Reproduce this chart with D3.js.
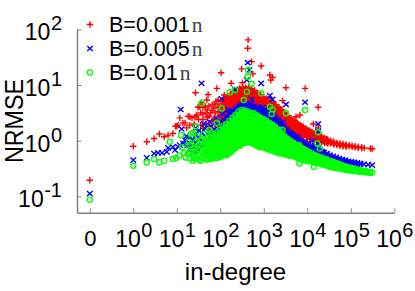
<!DOCTYPE html>
<html>
<head>
<meta charset="utf-8">
<script src="https://cdn.jsdelivr.net/npm/d3@7"></script>
<style>
  html, body { margin: 0; padding: 0; background: #fff; }
  text { font-family: "Liberation Sans", sans-serif; fill: #000; }
</style>
</head>
<body>
<div id="chart"></div>
<script>
// All readings are log10 of the plotted value. Degree 0 is drawn at exponent -1.
const seriesNames = ["B=0.001", "B=0.005", "B=0.01"];
const xTickExps = [-1, 0, 1, 2, 3, 4, 5, 6];
const yTickExps = [-1, 0, 1, 2];

// isolated points: [log degree, log NRMSE]
const redPoints = [[-1,-.71],[0,-.10],[.31,-.02],[.48,.04],[.60,.12],[.71,.07],[.80,.10],[.91,.13],[.97,.26],[1.0,.26],[1.03,.28],[1.07,.41],[1.14,.32],[1.19,.32],[1.23,.23],[1.26,.44],[1.30,.43],[1.35,.41],[1.42,.43],[1.43,.86],[1.46,.46],[1.49,.60],[1.53,.61],[1.56,.68],[1.69,.73],[1.72,.83],[1.81,.64],[1.92,.94],[1.95,.73],[2.02,1.22],[2.09,.82],[2.25,1.03],[2.49,1.29],[2.51,1.04],[2.63,1.66],[2.64,1.81],[2.72,1.42],[2.75,1.20],[2.94,1.34],[3.14,1.18],[3.16,1.09],[3.20,1.14],[3.43,.72],[3.51,.95],[3.74,.43],[3.83,.46],[3.95,.94],[4.14,.30],[4.25,.60],[4.25,.23],[4.25,.15],
  [1.30,.28],[1.40,.30],[1.50,.38],[1.55,.50],[1.55,.28],[1.60,.48],[1.65,.62],[1.70,.55],[1.70,.42],[1.78,.50],[1.85,.58],[1.85,.35],[1.90,.70],[1.98,.62],[1.98,.45],[3.60,.02],[3.72,.06],[3.90,.0],[4.00,-.03]];
const bluePoints = [[-1,-.95],[0,-.35],[.31,-.31],[.48,-.23],[.57,-.22],[.66,-.22],[.77,-.20],[.80,-.13],[.91,-.11],[.96,-.17],[1.03,-.11],[1.07,-.08],[1.09,.56],[1.11,.21],[1.19,.01],[1.26,-.08],[1.35,.01],[1.57,1.03],[2.03,.75],[2.34,.92],[2.61,1.09],[2.63,1.40],[2.67,1.27],[2.72,.74],[2.94,1.03],[3.14,.81],[3.20,.74],[3.44,.34],[3.51,.65],[3.78,.07],[3.95,.69],[4.11,.01],[4.18,-.09],[4.25,.30],[4.25,.17],[4.25,-.06],
  [1.15,-.05],[1.22,.08],[1.42,.22],[1.48,-.18],[1.62,.30],[1.75,.34],[1.82,-.08],[1.90,.40],[2.05,.48],[2.18,.56]];
const greenPoints = [[-1,-1.06],[0,-.45],[.31,-.39],[.48,-.33],[.60,-.39],[.71,-.36],[.84,-.02],[.91,-.33],[.98,-.31],[1.06,-.27],[1.10,.10],[1.17,-.22],[1.26,-.24],[1.32,.12],[1.37,.14],[1.44,.26],[1.57,.67],[1.75,.19],[1.92,.32],[2.03,.58],[2.22,.87],[2.34,.91],[2.54,.73],[2.61,.88],[2.63,1.15],[2.64,1.27],[2.72,1.02],[2.94,.85],[3.14,.61],[3.18,.48],[3.20,.56],[3.43,.19],[3.51,.49],[3.81,-.08],[3.82,-.41],[3.95,.55],[4.15,-.47],[4.23,-.05],[4.25,.15],[4.29,-.14],
  [1.12,-.12],[1.20,-.30],[1.28,-.02],[1.40,-.30],[1.48,.08],[1.55,-.36],[1.62,.12],[1.70,-.34],[1.80,.14]];

// dense part: [log degree, log NRMSE, log NRMSE, ...]
const redBand = [
  [1.60,.60,.38,.22],[1.67,.50,.30],[1.74,.62,.44,.26],[1.81,.54,.36,.20],[1.88,.66,.50,.41,.28],[1.95,.60,.52,.37,.24],
  [2.02,.72,.63,.55,.46,.38,.30],[2.09,.76,.68,.58,.51,.42,.34],[2.16,.80,.72,.65,.57,.49,.41],[2.23,.84,.76,.69,.61,.53,.46,.38],
  [2.30,.88,.81,.73,.66,.58,.50,.43],[2.37,.90,.84,.77,.70,.62,.55,.47],[2.44,.94,.87,.80,.73,.66,.58,.51],[2.51,.96,.89,.82,.76,.69,.62,.54],
  [2.58,.95,.88,.81,.74,.67,.60,.53],[2.65,.97,.90,.83,.76,.69,.62,.55],[2.72,.94,.87,.80,.73,.66,.59,.52],[2.79,.90,.83,.76,.69,.62,.55,.48],
  [2.86,.86,.79,.72,.65,.58,.51,.45],[2.93,.82,.75,.69,.62,.55,.48],[3.00,.78,.72,.65,.58,.51,.44],[3.07,.76,.69,.62,.55,.49,.42],
  [3.14,.72,.66,.59,.52,.45,.38],[3.21,.68,.62,.55,.48,.41,.35],[3.28,.65,.58,.51,.45,.38,.32],[3.35,.60,.54,.47,.41,.34,.28],
  [3.42,.55,.49,.43,.37,.31,.26],[3.49,.50,.44,.38,.33,.27,.22],[3.56,.45,.40,.35,.30,.25,.20],[3.63,.40,.35,.30,.26,.21,.17],
  [3.70,.36,.31,.27,.22,.18,.14],[3.77,.32,.28,.24,.19,.15,.11],[3.84,.28,.24,.20,.16,.12,.08],[3.91,.25,.21,.17,.13,.09],
  [3.98,.21,.18,.14,.10,.06],[4.05,.18,.15,.11,.07,.03],[4.12,.15,.12,.08,.05,.01],[4.19,.12,.09,.06,.02],[4.26,.09,.06,.03,-.01],
  [4.33,.07,.04,.01,-.02],[4.40,.04,.02,-.01,-.04],[4.47,.02,0,-.03,-.05],[4.54,0,-.02,-.05],[4.61,-.02,-.04,-.07],[4.68,-.04,-.06,-.08],
  [4.75,-.05,-.07,-.09],[4.82,-.06,-.08,-.10],[4.89,-.07,-.09,-.11],[4.96,-.08,-.10],[5.03,-.09,-.11],[5.10,-.10,-.12],[5.17,-.11,-.13],
  [5.25,-.12,-.13],[5.31,-.13],[5.45,-.14],[5.49,-.15]
];
const redBand2 = [
  [2.055,.70,.6,.5,.42,.35],[2.125,.74,.66,.55,.46,.38],[2.195,.79,.7,.62,.54,.44],[2.265,.83,.74,.66,.58,.5],[2.335,.86,.78,.7,.62,.54],
  [2.405,.9,.82,.74,.66,.58],[2.475,.92,.84,.77,.7,.62],[2.545,.93,.85,.78,.7,.63],[2.615,.93,.85,.78,.7,.63],[2.685,.92,.84,.77,.7,.62],
  [2.755,.89,.82,.74,.66,.58],[2.825,.85,.78,.71,.63,.56],[2.895,.81,.74,.67,.6,.52],[2.965,.78,.71,.64,.57,.5],[3.035,.74,.67,.6,.53,.46],
  [3.105,.72,.65,.58,.51,.44],[3.175,.68,.61,.54,.47,.4],[3.245,.64,.57,.5,.43,.36],[3.315,.6,.54,.47,.41,.34],[3.385,.56,.5,.44,.38,.31],
  [3.455,.5,.45,.39,.33,.27],[3.525,.45,.4,.35,.29,.24],[3.595,.41,.36,.31,.26,.21],[3.665,.37,.32,.27,.22,.17],[3.735,.33,.28,.24,.19,.14],
  [3.805,.29,.25,.2,.15,.11],[3.875,.26,.22,.17,.13,.09],[3.945,.22,.18,.14,.1],[4.015,.19,.15,.11,.07],[4.085,.16,.12,.08,.04],
  [4.155,.13,.1,.06,.02],[4.225,.1,.07,.03,0],[4.295,.07,.04,.01],[4.365,.05,.02,-.01],[4.435,.03,0,-.03]
];
const blueBand = [
  [1.30,.06,-.05,-.16],[1.37,.02,-.12,-.22],[1.44,.10,-.03,-.14],[1.51,.18,.05,-.08],[1.58,.14,.02,-.10],[1.65,.22,.08,-.05],[1.72,.12,0,-.12],
  [1.79,.26,.14,.03],[1.86,.20,.10,-.02],[1.93,.30,.18,.08],[2.00,.34,.25,.16,.06],[2.07,.38,.30,.22,.12],[2.14,.44,.36,.28,.20],
  [2.21,.48,.42,.34,.26],[2.28,.52,.46,.39,.31],[2.35,.58,.51,.44,.36],[2.42,.62,.55,.48,.40],[2.49,.65,.59,.52,.44],[2.56,.66,.60,.53,.46],
  [2.63,.64,.58,.51,.44],[2.70,.66,.60,.53,.45],[2.77,.62,.56,.49,.42],[2.84,.60,.53,.46,.39],[2.91,.57,.51,.44,.37],[2.98,.60,.52,.44,.36],
  [3.05,.55,.48,.41,.33],[3.12,.52,.45,.37,.30],[3.19,.48,.41,.34,.26],[3.26,.42,.36,.29,.22],[3.33,.36,.30,.23,.17],[3.40,.29,.24,.18,.12],
  [3.47,.24,.19,.13,.08],[3.54,.18,.13,.08,.03],[3.61,.14,.09,.04,-.01],[3.68,.09,.05,0,-.04],[3.75,.05,.01,-.03,-.08],[3.82,.01,-.03,-.07,-.11],
  [3.89,-.02,-.06,-.10,-.14],[3.96,-.05,-.09,-.13,-.17],[4.03,-.08,-.12,-.16,-.20],[4.10,-.11,-.15,-.19,-.22],[4.17,-.14,-.18,-.21,-.25],
  [4.24,-.16,-.20,-.24,-.27],[4.31,-.19,-.22,-.26,-.29],[4.38,-.21,-.24,-.28,-.31],[4.45,-.23,-.26,-.29,-.33],[4.52,-.26,-.29,-.32,-.35],
  [4.59,-.28,-.31,-.34],[4.66,-.30,-.33,-.36],[4.73,-.32,-.35,-.37],[4.80,-.34,-.36,-.38],[4.87,-.35,-.37,-.39],[4.94,-.37,-.39],
  [5.01,-.38,-.40],[5.08,-.39,-.41],[5.15,-.40,-.42],[5.22,-.41,-.42],[5.30,-.42],[5.40,-.43],[5.49,-.44]
];
const blueBand2 = [
  [2.245,.48,.4,.32],[2.315,.53,.45,.37],[2.385,.58,.5,.42],[2.455,.62,.54,.46],[2.525,.64,.56,.48],[2.595,.63,.55,.47],[2.665,.63,.55,.47],
  [2.735,.62,.54,.46],[2.805,.59,.51,.43],[2.875,.57,.49,.41],[2.945,.57,.48,.4],[3.015,.56,.48,.4],[3.085,.52,.44,.36],[3.155,.49,.41,.33],
  [3.225,.44,.37,.29],[3.295,.38,.31,.24],[3.365,.31,.25,.18],[3.435,.26,.2,.14],[3.505,.2,.15,.09],[3.575,.15,.1,.05],[3.645,.11,.06,.01],
  [3.715,.07,.03,-.02],[3.785,.02,-.02,-.06],[3.855,-.01,-.05,-.09],[3.925,-.04,-.08,-.12],[3.995,-.07,-.11,-.15],[4.065,-.1,-.14,-.18],
  [4.135,-.13,-.17,-.2],[4.205,-.15,-.19,-.22],[4.275,-.18,-.21,-.25],[4.345,-.2,-.23,-.27]
];
const greenBand = [
  [1.30,-.08,-.2,-.32],[1.37,-.14,-.26,-.36],[1.44,-.02,-.12,-.22,-.33],[1.51,-.06,-.16,-.26,-.34],[1.58,0,-.1,-.2,-.3],[1.65,.02,-.08,-.16,-.24,-.32],
  [1.72,.06,-.03,-.12,-.2,-.28],[1.79,.04,-.04,-.12,-.2,-.27,-.33],[1.86,.1,.02,-.06,-.14,-.22,-.29],[1.93,.14,.06,-.02,-.1,-.17,-.25,-.31],
  [2.00,.2,.12,.04,-.03,-.1,-.17,-.24,-.29],[2.07,.26,.18,.11,.03,-.05,-.12,-.19,-.25],[2.14,.3,.23,.15,.07,0,-.07,-.14,-.21,-.26],
  [2.21,.35,.28,.2,.13,.05,-.02,-.09,-.16,-.22],[2.28,.41,.34,.26,.19,.11,.04,-.03,-.1,-.17],[2.35,.46,.39,.31,.24,.16,.09,.01,-.06,-.13],
  [2.42,.52,.45,.37,.3,.22,.14,.07,-.01,-.08],[2.49,.55,.48,.4,.32,.25,.17,.1,.02,-.05],[2.56,.54,.47,.39,.31,.24,.17,.09,.02,-.04],
  [2.63,.52,.45,.38,.3,.23,.15,.08,.01,-.03],[2.70,.5,.43,.36,.28,.21,.13,.06,0,-.04],[2.77,.49,.41,.34,.26,.19,.11,.04,-.02,-.06],
  [2.84,.45,.38,.3,.23,.15,.08,.01,-.05,-.09],[2.91,.42,.35,.27,.2,.13,.05,-.01,-.07,-.12],[2.98,.39,.32,.25,.17,.1,.03,-.04,-.1],
  [3.05,.36,.29,.22,.15,.07,0,-.06,-.12],[3.12,.32,.25,.18,.11,.04,-.03,-.09,-.14],[3.19,.29,.23,.16,.09,.02,-.05,-.11,-.16],
  [3.26,.25,.19,.12,.05,-.01,-.07,-.13,-.18],[3.33,.2,.14,.08,.02,-.04,-.1,-.15,-.2],[3.40,.14,.09,.03,-.03,-.08,-.13,-.18,-.22],
  [3.47,.08,.03,-.02,-.07,-.12,-.17,-.21,-.24],[3.54,.04,-.01,-.06,-.11,-.15,-.2,-.24],[3.61,0,-.05,-.09,-.14,-.18,-.22,-.26],
  [3.68,-.04,-.08,-.13,-.17,-.21,-.25,-.28],[3.75,-.08,-.12,-.16,-.2,-.24,-.27,-.3],[3.82,-.11,-.15,-.19,-.23,-.26,-.29,-.32],
  [3.89,-.14,-.18,-.22,-.25,-.28,-.31,-.34],[3.96,-.17,-.2,-.24,-.27,-.3,-.33,-.36],[4.03,-.2,-.23,-.26,-.29,-.32,-.35,-.37],
  [4.10,-.23,-.26,-.29,-.31,-.34,-.37],[4.17,-.26,-.28,-.31,-.33,-.36,-.39],[4.24,-.28,-.3,-.33,-.35,-.38,-.4],[4.31,-.3,-.33,-.35,-.37,-.39,-.42],
  [4.38,-.32,-.35,-.37,-.39,-.41,-.43],[4.45,-.34,-.37,-.39,-.41,-.43,-.45],[4.52,-.36,-.39,-.41,-.43,-.45,-.47],[4.59,-.38,-.41,-.43,-.45,-.47,-.48],
  [4.66,-.4,-.42,-.44,-.46,-.48,-.49],[4.73,-.42,-.44,-.46,-.48,-.5],[4.80,-.44,-.46,-.48,-.5,-.51],[4.87,-.46,-.48,-.5,-.51,-.52],
  [4.94,-.48,-.5,-.51,-.53],[5.01,-.49,-.51,-.52,-.54],[5.08,-.5,-.52,-.53,-.55],[5.15,-.52,-.53,-.55],[5.22,-.53,-.54,-.56],
  [5.30,-.54,-.56],[5.36,-.55,-.57],[5.44,-.56,-.58],[5.49,-.57]
];
const greenBand2 = [
  [1.685,-.03,-.12,-.2,-.28],[1.755,.02,-.07,-.16,-.24,-.31],[1.825,0,-.08,-.16,-.24,-.3],[1.895,.06,-.02,-.1,-.18,-.25,-.31],
  [1.965,.1,.02,-.06,-.13,-.21,-.28],[2.035,.16,.08,0,-.07,-.14,-.21,-.27],[2.105,.22,.14,.07,-.01,-.09,-.16,-.23],
  [2.175,.26,.19,.11,.03,-.04,-.11,-.18,-.24],[2.245,.31,.24,.16,.09,.01,-.06,-.13,-.2],[2.315,.37,.3,.22,.15,.07,0,-.07,-.14],
  [2.385,.42,.35,.27,.2,.12,.05,-.03,-.1],[2.455,.48,.41,.33,.26,.18,.1,.03,-.05,-.09],[2.525,.51,.44,.36,.28,.21,.13,.06,-.02],
  [2.595,.5,.43,.35,.27,.2,.13,.05,-.01],[2.665,.48,.41,.34,.26,.19,.11,.04,-.02],[2.735,.46,.39,.32,.24,.17,.09,.02,-.03],
  [2.805,.44,.37,.3,.22,.15,.07,0,-.05],[2.875,.41,.34,.26,.19,.11,.04,-.03,-.09],[2.945,.38,.31,.23,.16,.09,.01,-.05,-.11],
  [3.015,.35,.28,.21,.13,.06,-.01,-.08,-.13],[3.085,.32,.25,.18,.11,.03,-.04,-.1,-.15],[3.155,.28,.21,.14,.07,0,-.07,-.13,-.17],
  [3.225,.25,.19,.12,.05,-.02,-.09,-.15,-.19],[3.295,.2,.14,.08,.01,-.05,-.11,-.17,-.21],[3.365,.15,.09,.03,-.03,-.09,-.14,-.19,-.23],
  [3.435,.09,.04,-.02,-.08,-.13,-.18,-.22],[3.505,.03,-.02,-.07,-.12,-.17,-.21,-.25],[3.575,0,-.05,-.1,-.14,-.19,-.23,-.27],
  [3.645,-.04,-.09,-.13,-.17,-.21,-.25],[3.715,-.07,-.11,-.15,-.19,-.23,-.27],[3.785,-.11,-.15,-.19,-.23,-.27,-.31],[3.855,-.13,-.17,-.21,-.25,-.28,-.33]
];

const largura = 415, altura = 291;

const svg = d3.select("#chart").append("svg")
    .attr("width", largura)
    .attr("height", altura)
    .style("display", "block");

// 0 sits one decade left of 10^0, so a plain log scale carries it too
const eixoX = d3.scaleLog().domain([Math.pow(10, -1.294), 1e6]).range([77, 394.3]);
const eixoY = d3.scaleLog().domain([Math.pow(10, -1.293), 100]).range([212.7, 29.3]);

// Junta pontos soltos e colunas densas numa lista [x, y]
function juntar(pontos, ...faixas) {
    const saida = [];
    faixas.forEach(faixa => {
        faixa.forEach(c => c.slice(1).forEach(v => saida.push([Math.pow(10, c[0]), Math.pow(10, v)])));
    });
    pontos.forEach(p => saida.push([Math.pow(10, p[0]), Math.pow(10, p[1])]));
    return saida;
}

const marcas = [
    {pontos: juntar(redPoints, redBand, redBand2), cor: "#ff0000", d: "M-3.2,0H3.2M0,-3.2V3.2", largura: 1.4},
    {pontos: juntar(bluePoints, blueBand, blueBand2), cor: "#0000ff", d: "M-2.8,-2.6L2.8,2.6M-2.8,2.6L2.8,-2.6", largura: 1.4},
    {pontos: juntar(greenPoints, greenBand, greenBand2), cor: "#00ff00", d: d3.symbol().type(d3.symbolCircle).size(Math.PI * 2.6 * 2.6)(), largura: 1.4}
];

marcas.forEach(m => {
    svg.append("g").selectAll("path")
        .data(m.pontos)
        .join("path")
        .attr("transform", d => `translate(${eixoX(d[0])},${eixoY(d[1])})`)
        .attr("d", m.d)
        .attr("fill", "none")
        .attr("stroke", m.cor)
        .attr("stroke-width", m.largura);
});

// Eixos
const eixoBaixo = d3.axisBottom(eixoX)
    .tickValues(xTickExps.map(e => Math.pow(10, e)))
    .tickSizeInner(-4.5).tickSizeOuter(0).tickFormat("");
const eixoEsq = d3.axisLeft(eixoY)
    .tickValues(yTickExps.map(e => Math.pow(10, e)))
    .tickSizeInner(-4.5).tickSizeOuter(0).tickFormat("");

const gX = svg.append("g").attr("transform", "translate(0,212.7)").call(eixoBaixo);
const gY = svg.append("g").attr("transform", "translate(77,0)").call(eixoEsq);
[gX, gY].forEach(g => {
    g.select(".domain").attr("stroke", "#808080").attr("stroke-width", 1.5);
    g.selectAll(".tick line").attr("stroke", "#707070").attr("stroke-width", 0.8);
});

// Rótulo "10" com expoente
function rotuloPotencia(el, expoente) {
    el.append("tspan").text("10");
    el.append("tspan").attr("dy", -10).attr("dx", 0.5).attr("font-size", 20).text(expoente);
}

gX.selectAll(".tick").each(function(d, i) {
    const t = d3.select(this).append("text")
        .attr("text-anchor", "middle")
        .attr("font-size", 23)
        .attr("fill", "#000");
    if (xTickExps[i] === -1) t.attr("y", 33).attr("font-size", 22).text("0");
    else {
        t.attr("y", 34.5);
        rotuloPotencia(t, xTickExps[i]);
    }
});

gY.selectAll(".tick").each(function(d, i) {
    const t = d3.select(this).append("text")
        .attr("x", -15)
        .attr("y", 10.5)
        .attr("text-anchor", "end")
        .attr("font-size", 23)
        .attr("fill", "#000");
    rotuloPotencia(t, yTickExps[i]);
});

svg.append("text")
    .attr("x", 235.5).attr("y", 280)
    .attr("text-anchor", "middle")
    .attr("font-size", 24)
    .text("in-degree");

// NRMSE is taller than it is long in the reference, hence the stretch
svg.append("text")
    .attr("transform", "translate(22.7,121) rotate(-90) scale(1,1.1)")
    .attr("text-anchor", "middle")
    .attr("font-size", 23.3)
    .text("NRMSE");

// Legenda
seriesNames.forEach((nome, i) => {
    const y = 24.5 + i * 24;
    svg.append("path")
        .attr("transform", `translate(90,${y})`)
        .attr("d", marcas[i].d)
        .attr("fill", "none")
        .attr("stroke", marcas[i].cor)
        .attr("stroke-width", marcas[i].largura);
    const t = svg.append("text")
        .attr("x", 109).attr("y", y + 7.5)
        .attr("font-size", 21.5);
    t.append("tspan").text(nome);
    t.append("tspan")
        .style("font-family", "'Liberation Serif', serif")
        .attr("dx", 2)
        .style("fill", "#444")
        .text("n");
});
</script>
</body>
</html>
